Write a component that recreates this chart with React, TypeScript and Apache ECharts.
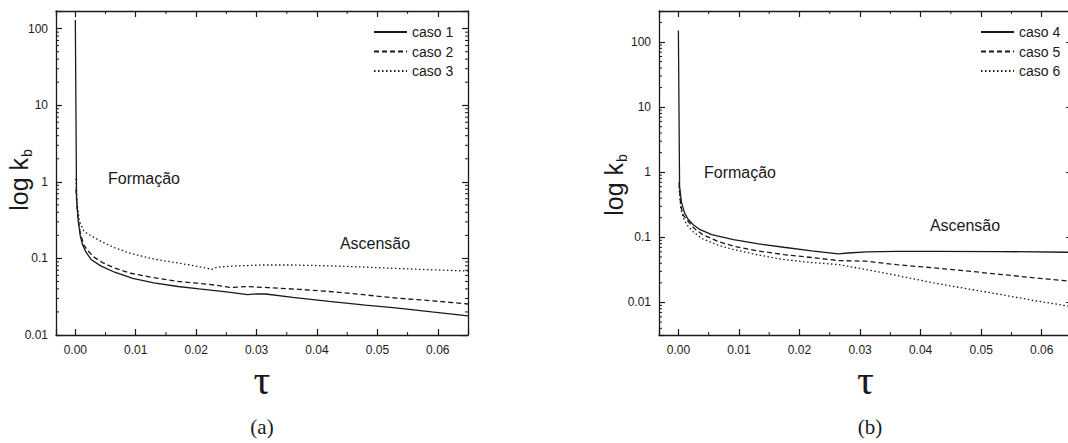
import React, { useEffect, useRef } from "react";
import * as echarts from "echarts";

// ---------- axis ranges ----------
const X_MIN = -0.0032;
const X_MAX = 0.065;
const Y_MIN_A = 0.01;
const Y_MAX_A = 170;
const Y_MIN_B = 0.00316;
const Y_MAX_B = 300;

// ---------- tick values ----------
const X_MINOR_TICKS = [0.005, 0.015, 0.025, 0.035, 0.045, 0.055];
const Y_MINOR_TICKS = [
  0.002, 0.003, 0.004, 0.005, 0.006, 0.007, 0.008, 0.009,
  0.02, 0.03, 0.04, 0.05, 0.06, 0.07, 0.08, 0.09,
  0.2, 0.3, 0.4, 0.5, 0.6, 0.7, 0.8, 0.9,
  2, 3, 4, 5, 6, 7, 8, 9,
  20, 30, 40, 50, 60, 70, 80, 90,
  200, 300,
];

// ---------- panel (a) ----------
const CASO1_TAU = [0, 0.0002, 0.0005, 0.0008, 0.0012, 0.0018, 0.0026, 0.0042, 0.0065, 0.0095, 0.013, 0.017, 0.0205, 0.025, 0.0285, 0.03, 0.0315, 0.036, 0.042, 0.048, 0.053, 0.059, 0.065];
const CASO1_KB = [130, 0.6, 0.3, 0.2, 0.15, 0.12, 0.097, 0.08, 0.066, 0.055, 0.048, 0.043, 0.04, 0.0365, 0.0336, 0.0345, 0.0343, 0.031, 0.0275, 0.0245, 0.0226, 0.02, 0.0178];

const CASO2_TAU = [0.0001, 0.0004, 0.0008, 0.0014, 0.002, 0.003, 0.0045, 0.0065, 0.0092, 0.013, 0.017, 0.0202, 0.0235, 0.0257, 0.0275, 0.0284, 0.032, 0.037, 0.042, 0.047, 0.053, 0.059, 0.065];
const CASO2_KB = [0.8, 0.35, 0.22, 0.15, 0.128, 0.105, 0.088, 0.075, 0.064, 0.056, 0.05, 0.0475, 0.0445, 0.0418, 0.0425, 0.043, 0.0415, 0.0395, 0.037, 0.034, 0.0304, 0.028, 0.0254];

const CASO3_TAU = [0.0001, 0.0003, 0.0007, 0.0014, 0.002, 0.003, 0.0043, 0.0065, 0.0092, 0.013, 0.0174, 0.0205, 0.0226, 0.0235, 0.027, 0.031, 0.036, 0.042, 0.048, 0.053, 0.059, 0.065];
const CASO3_KB = [1.1, 0.5, 0.3, 0.23, 0.21, 0.19, 0.166, 0.138, 0.116, 0.098, 0.086, 0.078, 0.072, 0.077, 0.08, 0.082, 0.082, 0.08, 0.077, 0.074, 0.071, 0.0685];

// ---------- panel (b) ----------
const CASO4_TAU = [0, 0.0002, 0.0005, 0.001, 0.0016, 0.0025, 0.0036, 0.0055, 0.0091, 0.013, 0.0174, 0.022, 0.0264, 0.028, 0.0311, 0.036, 0.0421, 0.0531, 0.0641, 0.065];
const CASO4_KB = [150, 0.6, 0.35, 0.24, 0.19, 0.155, 0.131, 0.11, 0.092, 0.08, 0.0704, 0.062, 0.0557, 0.0575, 0.0598, 0.0607, 0.061, 0.0605, 0.059, 0.059];

const CASO5_TAU = [0.0001, 0.0004, 0.0008, 0.0014, 0.0025, 0.004, 0.0065, 0.0091, 0.013, 0.0174, 0.022, 0.0264, 0.031, 0.036, 0.0421, 0.0475, 0.0531, 0.0585, 0.065];
const CASO5_KB = [0.7, 0.3, 0.22, 0.186, 0.14, 0.11, 0.087, 0.073, 0.062, 0.0544, 0.049, 0.044, 0.043, 0.038, 0.034, 0.0305, 0.027, 0.024, 0.021];

const CASO6_TAU = [0.0001, 0.0004, 0.0008, 0.0014, 0.0025, 0.004, 0.0065, 0.0091, 0.013, 0.0174, 0.022, 0.0264, 0.031, 0.036, 0.0421, 0.0475, 0.0531, 0.0585, 0.065];
const CASO6_KB = [0.6, 0.28, 0.2, 0.156, 0.12, 0.095, 0.076, 0.065, 0.054, 0.0456, 0.041, 0.0382, 0.032, 0.026, 0.02, 0.0163, 0.0133, 0.0108, 0.0086];

const LEGEND_A = ["caso 1", "caso 2", "caso 3"];
const LEGEND_B = ["caso 4", "caso 5", "caso 6"];

const SANS = "'Liberation Sans', Arial, Helvetica, sans-serif";
const SERIF = "'Liberation Serif', 'Times New Roman', serif";
const INK = "#1a1a1a";

const zip = (xs: number[], ys: number[]) => xs.map((x, i) => [x, ys[i]]);

const xLabel = (v: number) =>
  Math.abs(v * 100 - Math.round(v * 100)) < 1e-6 ? v.toFixed(2) : "";
const yLabel = (v: number) => {
  const e = Math.log10(v);
  if (Math.abs(e - Math.round(e)) > 1e-6) return "";
  return String(Number(v.toPrecision(3)));
};

function makeX(gridIndex: number, top: boolean) {
  return {
    type: "value",
    gridIndex,
    position: top ? "top" : "bottom",
    min: X_MIN,
    max: X_MAX,
    name: top ? "" : "τ",
    nameLocation: "middle",
    nameGap: 24,
    nameMoveOverlap: false,
    nameTextStyle: { fontFamily: SERIF, fontSize: 42, color: INK },
    axisLine: { show: true, onZero: false, lineStyle: { color: INK, width: 1.3 } },
    axisTick: { show: true, inside: true, length: 6, lineStyle: { color: INK, width: 1.2 } },
    axisLabel: {
      show: !top,
      formatter: xLabel,
      fontFamily: SANS,
      fontSize: 12,
      color: INK,
      margin: 9,
    },
    splitLine: { show: false },
  };
}

function makeY(gridIndex: number, right: boolean, min: number, max: number, gap: number, shift: number) {
  return {
    type: "log",
    logBase: 10,
    gridIndex,
    position: right ? "right" : "left",
    min,
    max,
    name: right ? "" : "{a|log k}{b|b}",
    nameLocation: "middle",
    nameRotate: 90,
    nameGap: gap,
    nameMoveOverlap: false,
    nameTextStyle: {
      color: INK,
      rich: {
        a: { fontFamily: SANS, fontSize: 25, color: INK, lineHeight: 30, verticalAlign: "middle" },
        b: { fontFamily: SANS, fontSize: 14, color: INK, lineHeight: 30, verticalAlign: "bottom", padding: [14, shift, 0, 1] },
      },
    },
    axisLine: { show: true, onZero: false, lineStyle: { color: INK, width: 1.3 } },
    axisTick: { show: true, inside: true, length: 6, lineStyle: { color: INK, width: 1.2 } },
    axisLabel: {
      show: !right,
      formatter: yLabel,
      fontFamily: SANS,
      fontSize: 12,
      color: INK,
      margin: 8,
    },
    splitLine: { show: false },
  };
}

function lineSeries(name: string, data: number[][], gridIdx: number, type: any) {
  return {
    type: "line",
    name,
    data,
    xAxisIndex: gridIdx * 2,
    yAxisIndex: gridIdx * 2,
    symbol: "none",
    showSymbol: false,
    smooth: false,
    silent: true,
    lineStyle: { color: INK, width: 1.3, type },
    itemStyle: { color: INK },
    z: 3,
  };
}

function minorY(gridIdx: number) {
  return {
    type: "custom",
    xAxisIndex: gridIdx * 2,
    yAxisIndex: gridIdx * 2,
    silent: true,
    data: Y_MINOR_TICKS.map((v) => [X_MIN, v]),
    renderItem: (params: any, api: any) => {
      const cs = params.coordSys;
      const p = api.coord([X_MIN, api.value(1)]);
      if (p[1] < cs.y + 0.5 || p[1] > cs.y + cs.height - 0.5) return null;
      const st = { stroke: INK, lineWidth: 1 };
      return {
        type: "group",
        children: [
          { type: "line", shape: { x1: cs.x, y1: p[1], x2: cs.x + 3, y2: p[1] }, style: st },
          { type: "line", shape: { x1: cs.x + cs.width, y1: p[1], x2: cs.x + cs.width - 3, y2: p[1] }, style: st },
        ],
      };
    },
  };
}

function minorX(gridIdx: number, yRef: number) {
  return {
    type: "custom",
    xAxisIndex: gridIdx * 2,
    yAxisIndex: gridIdx * 2,
    silent: true,
    data: X_MINOR_TICKS.map((v) => [v, yRef]),
    renderItem: (params: any, api: any) => {
      const cs = params.coordSys;
      const p = api.coord([api.value(0), yRef]);
      const st = { stroke: INK, lineWidth: 1 };
      return {
        type: "group",
        children: [
          { type: "line", shape: { x1: p[0], y1: cs.y + cs.height, x2: p[0], y2: cs.y + cs.height - 3 }, style: st },
          { type: "line", shape: { x1: p[0], y1: cs.y, x2: p[0], y2: cs.y + 3 }, style: st },
        ],
      };
    },
  };
}

function legend(names: string[], left: number) {
  return {
    data: names,
    orient: "vertical",
    left,
    top: 20,
    itemWidth: 33,
    itemHeight: 14,
    itemGap: 5.5,
    selectedMode: false,
    itemStyle: { color: "rgba(0,0,0,0)", borderWidth: 0, opacity: 0 },
    textStyle: { fontFamily: SANS, fontSize: 14, color: INK },
  };
}

function annot(text: string, x: number, y: number) {
  return {
    type: "text",
    x,
    y,
    style: {
      text,
      fontFamily: SANS,
      fontSize: 16,
      fill: INK,
      textAlign: "center",
      textVerticalAlign: "middle",
    },
  };
}

export default function App() {
  const ref = useRef<HTMLDivElement>(null);

  useEffect(() => {
    if (!ref.current) return;
    const chart = echarts.init(ref.current, undefined, { renderer: "svg" });
    const DASH = [5, 3];
    const DOT = [1.5, 2.5];
    chart.setOption({
      animation: false,
      backgroundColor: "#ffffff",
      grid: [
        { left: 56, top: 11, width: 412, height: 324, containLabel: false, outerBoundsMode: "none" },
        { left: 659, top: 11, width: 413, height: 324, containLabel: false, outerBoundsMode: "none" },
      ],
      xAxis: [makeX(0, false), makeX(0, true), makeX(1, false), makeX(1, true)],
      yAxis: [
        makeY(0, false, Y_MIN_A, Y_MAX_A, 22, 14),
        makeY(0, true, Y_MIN_A, Y_MAX_A, 22, 14),
        makeY(1, false, Y_MIN_B, Y_MAX_B, 30, 24),
        makeY(1, true, Y_MIN_B, Y_MAX_B, 30, 24),
      ],
      legend: [legend(LEGEND_A, 368), legend(LEGEND_B, 975)],
      series: [
        lineSeries("caso 1", zip(CASO1_TAU, CASO1_KB), 0, "solid"),
        lineSeries("caso 2", zip(CASO2_TAU, CASO2_KB), 0, DASH),
        lineSeries("caso 3", zip(CASO3_TAU, CASO3_KB), 0, DOT),
        lineSeries("caso 4", zip(CASO4_TAU, CASO4_KB), 1, "solid"),
        lineSeries("caso 5", zip(CASO5_TAU, CASO5_KB), 1, DASH),
        lineSeries("caso 6", zip(CASO6_TAU, CASO6_KB), 1, DOT),
        minorY(0),
        minorY(1),
        minorX(0, Y_MIN_A),
        minorX(1, Y_MIN_B * 2),
      ],
      graphic: [
        annot("Formação", 144, 178),
        annot("Ascensão", 375, 243),
        annot("Formação", 740, 172),
        annot("Ascensão", 965, 225),
        {
          type: "text",
          x: 262,
          y: 427,
          style: { text: "(a)", fontFamily: SERIF, fontSize: 21, fill: INK, textAlign: "center", textVerticalAlign: "middle" },
        },
        {
          type: "text",
          x: 870,
          y: 427,
          style: { text: "(b)", fontFamily: SERIF, fontSize: 21, fill: INK, textAlign: "center", textVerticalAlign: "middle" },
        },
      ],
    });
    return () => chart.dispose();
  }, []);

  return (
    <div style={{ position: "fixed", left: 0, top: 0, width: 1068, height: 443, overflow: "hidden", background: "#fff" }}>
      <div ref={ref} style={{ width: 1072, height: 443 }} />
    </div>
  );
}
